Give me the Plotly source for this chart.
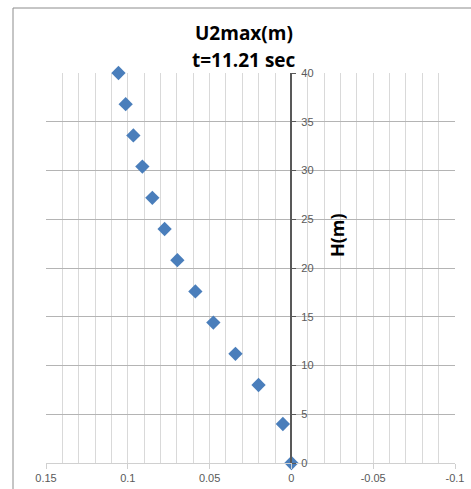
import plotly.graph_objects as go

# Peak displacement U2max (m) against height H (m)
u2max = [0.1057, 0.1013, 0.0966, 0.0911, 0.0850, 0.0775, 0.0697, 0.0587,
         0.0477, 0.0342, 0.0201, 0.0052, 0.0]
height = [40.0, 36.8, 33.6, 30.4, 27.2, 24.0, 20.8, 17.6, 14.4, 11.2, 8.0, 4.0, 0.0]

x_range = [0.15, -0.1]
y_range = [0, 40]
x_ticks = [0.15, 0.1, 0.05, 0, -0.05, -0.1]
x_ticklabels = ["0.15", "0.1", "0.05", "0", "-0.05", "-0.1"]
y_ticks = [0, 5, 10, 15, 20, 25, 30, 35, 40]

W, H = 471, 489
L, R, T, B = 46, 16, 73, 26
pw, ph = W - L - R, H - T - B


def px_x(px):
    return (px - L) / pw


def px_y(py):
    return (H - B - py) / ph


tick_font = dict(family="Liberation Sans, Arial, sans-serif", size=11, color="#595959")
title_font = dict(family="Open Sans, Liberation Sans, sans-serif", size=19, color="#000000")

fig = go.Figure()
fig.add_trace(go.Scatter(
    x=u2max, y=height, mode="markers",
    marker=dict(symbol="diamond", size=11, color="#4a7ebb",
                line=dict(width=0)),
    showlegend=False, cliponaxis=False,
))

# y axis drawn at x = 0, expressed as a fraction of the plot width
y_pos = (x_range[0] - 0) / (x_range[0] - x_range[1])

fig.update_layout(
    width=W, height=H,
    margin=dict(l=L, r=R, t=T, b=B, pad=0, autoexpand=False),
    paper_bgcolor="white", plot_bgcolor="white",
    xaxis=dict(
        range=x_range, autorange=False, automargin=False,
        tickvals=x_ticks, ticktext=x_ticklabels,
        showgrid=True, gridcolor="#d9d9d9", gridwidth=1,
        minor=dict(dtick=0.01, tick0=0, showgrid=True, gridcolor="#d9d9d9",
                   gridwidth=1, ticks=""),
        showline=True, linecolor="#d0d0d0", linewidth=1,
        ticks="outside", ticklen=5, tickcolor="#d0d0d0",
        zeroline=False, tickfont=tick_font,
    ),
    yaxis=dict(
        range=y_range, autorange=False, automargin=False,
        tickvals=y_ticks,
        showgrid=True, gridcolor="#b4b4b4", gridwidth=1,
        anchor="free", position=y_pos, side="right",
        showline=True, linecolor="#595959", linewidth=1.5,
        ticks="outside", ticklen=4, tickcolor="#595959",
        ticklabelstandoff=3,
        zeroline=False, tickfont=tick_font,
    ),
)

# chart frame
fig.add_shape(type="rect", xref="paper", yref="paper",
              x0=px_x(13), x1=px_x(W + 10),
              y0=px_y(H + 10), y1=px_y(8),
              line=dict(color="#8c8c8c", width=1), fillcolor="rgba(0,0,0,0)",
              layer="below")

fig.add_annotation(text="<b>U2max(m)</b>", xref="paper", yref="paper",
                   x=px_x(244), y=px_y(33),
                   showarrow=False, font=title_font, xanchor="center", yanchor="middle")
fig.add_annotation(text="<b>t=11.21 sec</b>", xref="paper", yref="paper",
                   x=px_x(244), y=px_y(60),
                   showarrow=False, font=title_font, xanchor="center", yanchor="middle")
fig.add_annotation(text="<b>H(m)</b>", xref="paper", yref="paper",
                   x=px_x(337), y=px_y(235), textangle=-90,
                   showarrow=False,
                   font=dict(family="Open Sans, Liberation Sans, sans-serif", size=18, color="#000000"),
                   xanchor="center", yanchor="middle")

fig.write_html("out.html")
